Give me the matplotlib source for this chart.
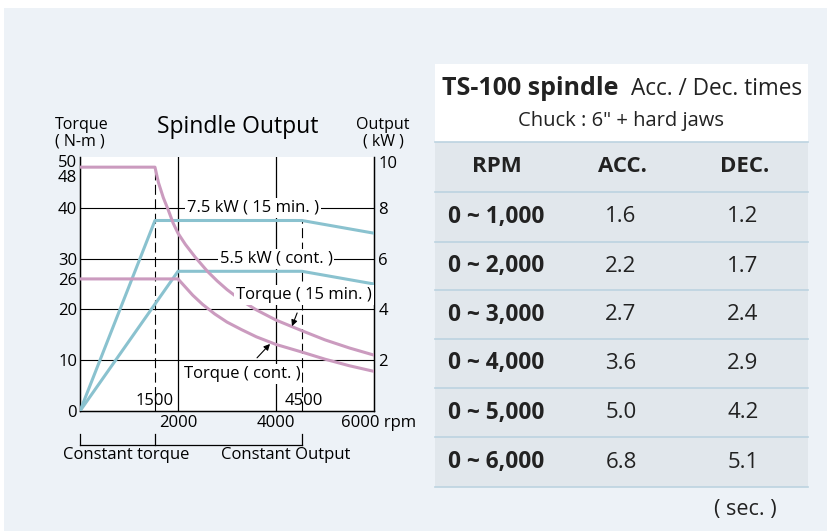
import matplotlib
matplotlib.use('Agg')
import matplotlib.pyplot as plt
from matplotlib.patches import Rectangle
from matplotlib.transforms import ScaledTranslation

plt.rcParams['font.family'] = ['Open Sans', 'DejaVu Sans']

# spindle output curves
rpm_kw15 = [0, 1530, 4530, 6000]
kw_15 = [0, 7.5, 7.5, 7.0]
rpm_kwc = [0, 2000, 4530, 6000]
kw_cont = [0, 5.5, 5.5, 5.0]

rpm_t15 = [0, 1530, 1600, 1700, 1800, 1900, 2000, 2150, 2350, 2600, 2800, 3000,
           3300, 3600, 4000, 4530, 5000, 5500, 6000]
torque_15 = [48, 48, 45.0, 42.0, 39.6, 37.0, 35.0, 32.8, 30.3, 27.5, 25.6, 23.9,
             21.7, 19.9, 17.9, 15.8, 14.0, 12.4, 11.0]
rpm_tc = [0, 2000, 2150, 2300, 2500, 2750, 3000, 3300, 3600, 4000, 4530, 5000, 5500, 6000]
torque_cont = [26, 26, 24.4, 22.8, 21.0, 19.1, 17.5, 16.0, 14.6, 13.1, 11.6, 10.2, 8.9, 7.8]

torque_ticks = [0, 10, 20, 26, 30, 40, 48, 50]
kw_ticks = [2, 4, 6, 8, 10]
rpm_ticks = [2000, 4000, 6000]
rpm_labels = ['2000', '4000', '6000 rpm']
base_speed = 1530
corner_speed = 4530

# acc / dec table
rpm_ranges = ['0 ~ 1,000', '0 ~ 2,000', '0 ~ 3,000', '0 ~ 4,000', '0 ~ 5,000', '0 ~ 6,000']
acc_times = ['1.6', '2.2', '2.7', '3.6', '5.0', '6.8']
dec_times = ['1.2', '1.7', '2.4', '2.9', '4.2', '5.1']
col_heads = ['RPM', 'ACC.', 'DEC.']

pink = '#cb9bbf'
teal = '#8ac2cf'
bg = '#edf2f7'
ink = '#222222'
W, H = 827, 531

fig = plt.figure(figsize=(W / 100, H / 100), dpi=100)
fig.patch.set_facecolor('white')
fig.add_artist(Rectangle((4 / W, 0), 1, 1 - 8 / H, transform=fig.transFigure,
                         facecolor=bg, edgecolor='none', zorder=-5))

# ---- chart ----
ax = fig.add_axes([80 / W, (H - 411) / H, 294 / W, 254 / H])
ax.set_facecolor('white')
ax.set_xlim(0, 6000)
ax.set_ylim(0, 50)
ax.spines['top'].set_visible(False)
for s in ['left', 'bottom', 'right']:
    ax.spines[s].set_linewidth(1.0)

for y in [10, 20, 30, 40]:
    ax.axhline(y, color='black', lw=0.8, zorder=1)
for x in [2000, 4000]:
    ax.axvline(x, color='black', lw=0.9, zorder=1)
ax.plot([base_speed, base_speed], [0, 48], color='black', lw=0.8, ls=(0, (9, 4)), zorder=1)
ax.plot([corner_speed, corner_speed], [0, 37.5], color='black', lw=0.8, ls=(0, (9, 4)), zorder=1)

ax2 = ax.twinx()
ax2.set_ylim(0, 10)
ax2.set_zorder(ax.get_zorder() + 1)
ax2.patch.set_visible(False)
ax2.spines['top'].set_visible(False)
ax2.plot(rpm_kw15, kw_15, color=teal, lw=2.2, zorder=3)
ax2.plot(rpm_kwc, kw_cont, color=teal, lw=2.2, zorder=3)
ax2.plot(rpm_t15, [t / 5 for t in torque_15], color=pink, lw=2.2, zorder=3)
ax2.plot(rpm_tc, [t / 5 for t in torque_cont], color=pink, lw=2.2, zorder=3)

ax.set_yticks(torque_ticks)
ax.set_yticklabels([str(t) for t in torque_ticks])
ax.tick_params(axis='y', length=0, pad=2, labelsize=12)
ax.set_xticks(rpm_ticks)
ax.set_xticklabels(rpm_labels)
ax.tick_params(axis='x', length=0, pad=3, labelsize=12)
ax2.set_yticks(kw_ticks)
ax2.set_yticklabels([str(k) for k in kw_ticks])
ax2.tick_params(axis='y', length=0, pad=3, labelsize=12)

# nudge crowded top labels down
for lab in ax.get_yticklabels():
    if lab.get_text() == '50':
        lab.set_transform(lab.get_transform() + ScaledTranslation(0, -4 / 100, fig.dpi_scale_trans))
    if lab.get_text() == '48':
        lab.set_transform(lab.get_transform() + ScaledTranslation(0, -9 / 100, fig.dpi_scale_trans))
for lab in ax2.get_yticklabels():
    if lab.get_text() == '10':
        lab.set_transform(lab.get_transform() + ScaledTranslation(0, -5 / 100, fig.dpi_scale_trans))
ax.get_xticklabels()[-1].set_transform(
    ax.get_xticklabels()[-1].get_transform() + ScaledTranslation(5 / 100, 0, fig.dpi_scale_trans))

box = dict(facecolor='white', edgecolor='none', pad=1.5)
ax2.text(3531, 8, '7.5 kW ( 15 min. )', ha='center', va='center', fontsize=12, bbox=box, zorder=4)
ax2.text(4000, 6, '5.5 kW ( cont. )', ha='center', va='center', fontsize=12, bbox=box, zorder=4)
ax2.annotate('Torque ( 15 min. )', xy=(4327, 16.7 / 5), xytext=(4571, 22.8 / 5),
             ha='center', va='center', fontsize=12, bbox=box, zorder=4,
             arrowprops=dict(arrowstyle='-|>', color='black', lw=0.8, shrinkA=6, shrinkB=0,
                             mutation_scale=9))
ax2.annotate('Torque ( cont. )', xy=(3878, 13.2 / 5), xytext=(3306, 7.3 / 5),
             ha='center', va='center', fontsize=12, bbox=box, zorder=4,
             arrowprops=dict(arrowstyle='-|>', color='black', lw=0.8, shrinkA=6, shrinkB=0,
                             mutation_scale=9))
ax2.text(base_speed, 2.0 / 5, '1500', ha='center', va='center', fontsize=12, zorder=4)
ax2.text(corner_speed + 30, 2.0 / 5, '4500', ha='center', va='center', fontsize=12, zorder=4)

# ---- overlay in pixel coords ----
ov = fig.add_axes([0, 0, 1, 1], zorder=10)
ov.set_xlim(0, W)
ov.set_ylim(H, 0)
ov.axis('off')

ov.plot([80, 302], [445, 445], color='black', lw=0.9)
for x in [80, 155, 302]:
    ov.plot([x, x], [434, 445], color='black', lw=0.9)
ov.text(126, 455, 'Constant torque', ha='center', va='center', fontsize=12)
ov.text(286, 455, 'Constant Output', ha='center', va='center', fontsize=12)

ov.text(55, 133, 'Torque\n( N-m )', ha='left', va='center', fontsize=11.5, linespacing=1.05)
ov.text(383, 133, 'Output\n( kW )', ha='center', va='center', fontsize=11.5, linespacing=1.05)
ov.text(238, 133, 'Spindle Output', ha='center', va='baseline', fontsize=16.5)

# table
tx0, tx1 = 435, 808
ov.add_patch(Rectangle((tx0, 64), tx1 - tx0, 78, facecolor='white', edgecolor='none'))
ov.add_patch(Rectangle((tx0, 142), tx1 - tx0, 345, facecolor='#e1e7ec', edgecolor='none'))
for y in [142, 192, 242, 290, 339, 388, 437, 487]:
    ov.plot([tx0, tx1], [y, y], color='#bcd3e0', lw=1.2)

ov.text(442, 95, 'TS-100 spindle', ha='left', va='baseline', fontsize=18, fontweight='bold', color=ink)
ov.text(802, 95, 'Acc. / Dec. times', ha='right', va='baseline', fontsize=16.3, color=ink)
ov.text(621, 121, 'Chuck : 6" + hard jaws', ha='center', va='center', fontsize=14.5, color=ink)

col_x = [497, 622, 745]
for x, h in zip(col_x, col_heads):
    ov.text(x, 167, h, ha='center', va='center', fontsize=16, fontweight='bold', color=ink)

row_y = [217, 266, 314.5, 363.5, 412.5, 462]
for y, r, a, d in zip(row_y, rpm_ranges, acc_times, dec_times):
    ov.text(448, y, r, ha='left', va='center', fontsize=16.3, fontweight='bold', color=ink)
    ov.text(621, y, a, ha='center', va='center', fontsize=16, color=ink)
    ov.text(743, y, d, ha='center', va='center', fontsize=16, color=ink)
ov.text(745, 509, '( sec. )', ha='center', va='center', fontsize=15.5, color=ink)

fig.savefig('out.png', dpi=100)
